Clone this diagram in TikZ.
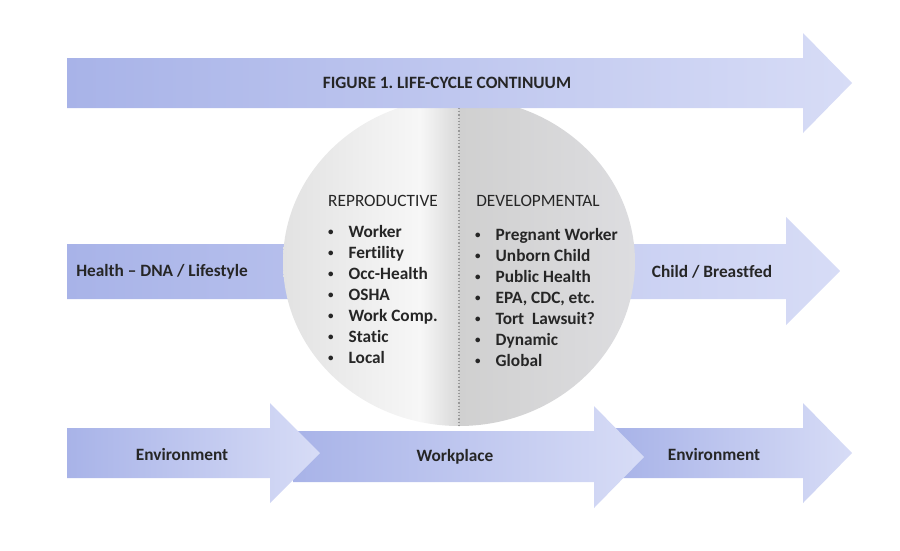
\documentclass[tikz,border=0pt]{standalone}
\usepackage{fontspec}
\setmainfont{Carlito}[Ligatures=NoCommon]
\usetikzlibrary{calc}
\frenchspacing
\definecolor{arrL}{HTML}{A8B3E8}
\definecolor{arrR}{HTML}{D7DCF6}
\definecolor{txt}{HTML}{262626}
\definecolor{cirA}{HTML}{E2E2E2}
\definecolor{cirB}{HTML}{F7F7F7}
\definecolor{cirC}{HTML}{D8D8D8}
\definecolor{cirD}{HTML}{D0D0D0}
\definecolor{cirE}{HTML}{DDDDE0}
\newcommand\mybul{\raisebox{1.6pt}{\fontsize{11}{11}\selectfont\textbullet}}
\tikzset{
  bigarrow/.style={left color=arrL, right color=arrR, draw=none},
  arrlabel/.style={font=\fontsize{17.3}{20}\selectfont\bfseries, text=txt},
  colhead/.style={font=\fontsize{17.3}{20}\selectfont, text=txt},
  collist/.style={font=\fontsize{17.3}{21}\selectfont\bfseries, text=txt, anchor=base west, inner sep=0pt},
}
\begin{document}
\begin{tikzpicture}[x=1pt,y=-1pt]
\useasboundingbox (0,0) rectangle (900,550);
% middle arrow (behind circle)
\path[bigarrow] (67,244) -- (786,244) -- (786,217) -- (840,271) -- (786,325) -- (786,299) -- (67,299) -- cycle;
% circle
\begin{scope}
  \clip (459,262) ellipse [x radius=176, y radius=164];
  \path[left color=cirA, right color=cirB] (283,98) rectangle (421,428);
  \path[left color=cirB, right color=cirC] (420,98) rectangle (459.5,428);
  \path[left color=cirD, right color=cirE] (459,98) rectangle (635,428);
\end{scope}
\coordinate (dtop) at (459,108);
\coordinate (dbot) at (459,426);
\draw[gray!80, dotted, line width=1.2pt] (dtop) -- (dbot);
% top arrow
\path[bigarrow] (67,58) -- (803,58) -- (803,33) -- (852,83) -- (803,133) -- (803,108) -- (67,108) -- cycle;
% bottom arrows
\path[bigarrow] (616,428) -- (803,428) -- (803,403) -- (852,453) -- (803,503) -- (803,478) -- (616,478) -- cycle;
\path[bigarrow] (293,431) -- (594,431) -- (594,406) -- (644,457) -- (594,508) -- (594,482) -- (293,482) -- cycle;
\path[bigarrow] (67,428) -- (270,428) -- (270,403) -- (320,453) -- (270,503) -- (270,478) -- (67,478) -- cycle;
% labels
\node[arrlabel] (title) at (447,83) {FIGURE 1. LIFE-CYCLE CONTINUUM};
\node[arrlabel] (health) at (162,272) {Health – DNA / Lifestyle};
\node[arrlabel] (child) at (712,272) {Child / Breastfed};
\node[arrlabel] (env1) at (182,454) {Environment};
\node[arrlabel] (work) at (455,457) {Workplace};
\node[arrlabel] (env2) at (714,454) {Environment};
\node[colhead] (rephead) at (383,201) {REPRODUCTIVE};
\node[colhead] (devhead) at (538,201) {DEVELOPMENTAL};
\node[collist] (replist) at (328,237) {\begin{tabular}[t]{@{}l@{\hspace{15pt}}l@{}}
\mybul & Worker\\
\mybul & Fertility\\
\mybul & Occ-Health\\
\mybul & OSHA\\
\mybul & Work Comp.\\
\mybul & Static\\
\mybul & Local
\end{tabular}};
\node[collist] (devlist) at (475,240) {\begin{tabular}[t]{@{}l@{\hspace{15pt}}l@{}}
\mybul & Pregnant Worker\\
\mybul & Unborn Child\\
\mybul & Public Health\\
\mybul & EPA, CDC, etc.\\
\mybul & Tort~ Lawsuit?\\
\mybul & Dynamic\\
\mybul & Global
\end{tabular}};
\end{tikzpicture}
\end{document}
